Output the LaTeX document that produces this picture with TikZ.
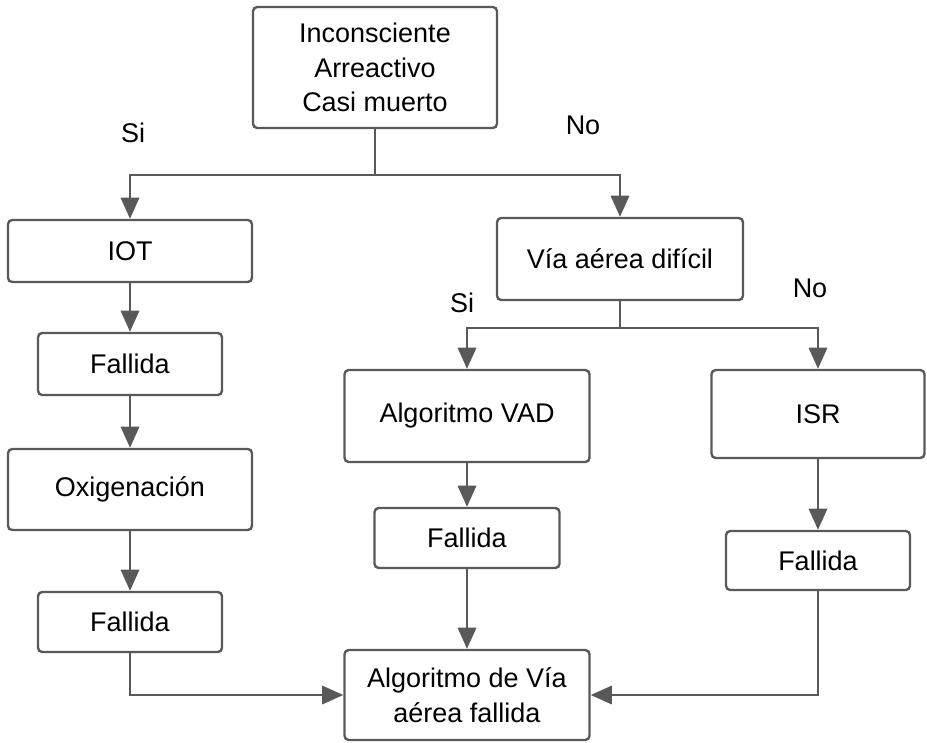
\documentclass[tikz,border=0pt]{standalone}
\usepackage{fontspec}
\setmainfont{Liberation Sans}
\usepackage{tikz}
\usetikzlibrary{calc, shapes, arrows.meta}
\usetikzlibrary{positioning}
\definecolor{linegray}{HTML}{595959}
\tikzstyle{paso} = [rectangle, draw=linegray, line width=1.7pt, rounded corners=3pt, align=center, text centered, font=\fontsize{19.2}{24.5}\selectfont, inner sep=0pt]
\tikzstyle{flecha} = [draw=linegray, line width=1.7pt, -{Triangle[length=15pt, width=13pt]}]
\tikzstyle{linea} = [draw=linegray, line width=1.7pt]
\tikzstyle{etiqueta} = [font=\fontsize{19.2}{24.5}\selectfont]

\begin{document}
\begin{tikzpicture}
        \useasboundingbox (0, 0) rectangle (23.175, -18.55);

        \node[paso, minimum width=6.1cm, minimum height=3.025cm] at (9.375, -1.6875) (INCONSCIENTE) {Inconsciente\\Arreactivo\\Casi muerto};
        \node[etiqueta] at (3.325, -3.325) (SI_1) {Si};
        \node[etiqueta] at (14.575, -3.125) (NO_1) {No};

        \node[paso, minimum width=6.1cm, minimum height=1.55cm] at (3.25, -6.275) (IOT) {IOT};
        \node[paso, minimum width=4.6cm, minimum height=1.55cm] at (3.25, -9.1) (FALLIDA_IOT) {Fallida};
        \node[paso, minimum width=6.1cm, minimum height=2.025cm] at (3.25, -12.2375) (OXIGENACION) {Oxigenación};
        \node[paso, minimum width=4.6cm, minimum height=1.5cm] at (3.25, -15.55) (FALLIDA_OXI) {Fallida};

        \node[paso, minimum width=6.15cm, minimum height=2.05cm] at (15.5, -6.475) (VIA_DIFICIL) {Vía aérea difícil};
        \node[etiqueta] at (11.55, -7.575) (SI_2) {Si};
        \node[etiqueta] at (20.25, -7.2) (NO_2) {No};

        \node[paso, minimum width=6.125cm, minimum height=2.3cm] at (11.675, -10.4) (VAD) {Algoritmo VAD};
        \node[paso, minimum width=4.625cm, minimum height=1.5cm] at (11.675, -13.45) (FALLIDA_VAD) {Fallida};
        \node[paso, minimum width=5.325cm, minimum height=2.2cm] at (20.45, -10.35) (ISR) {ISR};
        \node[paso, minimum width=4.6cm, minimum height=1.475cm] at (20.45, -14.0125) (FALLIDA_ISR) {Fallida};

        \node[paso, minimum width=6.125cm, minimum height=2.25cm] at (11.675, -17.375) (VIA_FALLIDA) {Algoritmo de Vía\\aérea fallida};

        \coordinate (split_top) at (9.375, -4.375);
        \coordinate (split_via) at (15.5, -8.2);

        \draw[linea] (INCONSCIENTE) -- (split_top);
        \draw[flecha] (split_top) -| (IOT);
        \draw[flecha] (split_top) -| (VIA_DIFICIL);
        \draw[flecha] (IOT) -- (FALLIDA_IOT);
        \draw[flecha] (FALLIDA_IOT) -- (OXIGENACION);
        \draw[flecha] (OXIGENACION) -- (FALLIDA_OXI);
        \draw[flecha] (FALLIDA_OXI) |- (VIA_FALLIDA);

        \draw[linea] (VIA_DIFICIL) -- (split_via);
        \draw[flecha] (split_via) -| (VAD);
        \draw[flecha] (split_via) -| (ISR);
        \draw[flecha] (VAD) -- (FALLIDA_VAD);
        \draw[flecha] (FALLIDA_VAD) -- (VIA_FALLIDA);
        \draw[flecha] (ISR) -- (FALLIDA_ISR);
        \draw[flecha] (FALLIDA_ISR) |- (VIA_FALLIDA);
    \end{tikzpicture}
\end{document}
